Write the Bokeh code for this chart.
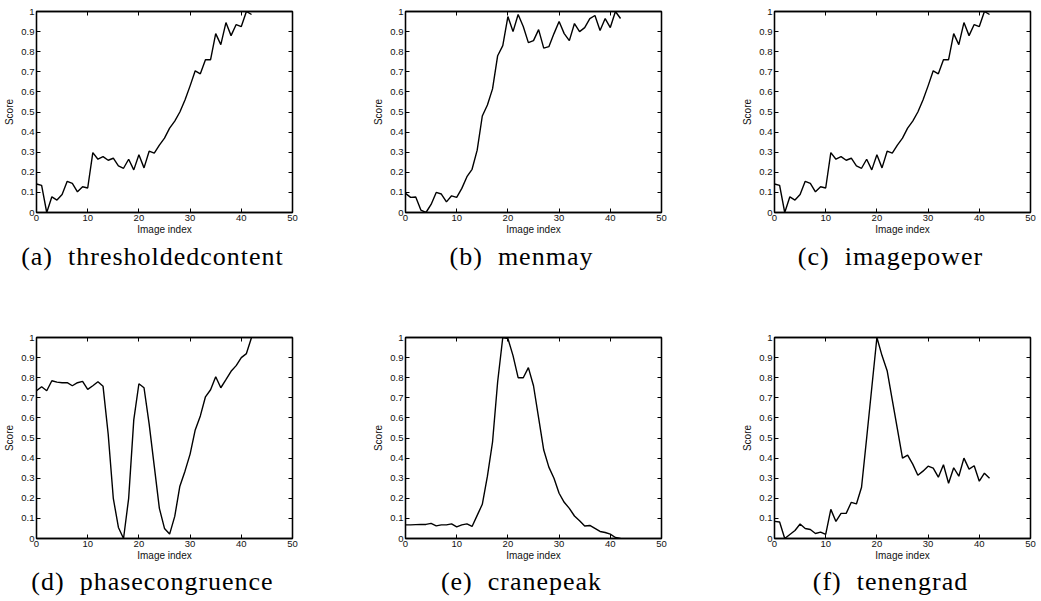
from bokeh.plotting import figure
from bokeh.models import Range1d, FixedTicker, LinearAxis, CustomJSTickFormatter, Div
from bokeh.layouts import column, row
from bokeh.embed import file_html
from bokeh.resources import INLINE

# Focus score of each image in the sequence, normalised to [0, 1]
image_index = list(range(43))

thresholdedcontent = [0.142, 0.135, 0.0, 0.078, 0.062, 0.09, 0.155, 0.145, 0.103, 0.128,
                      0.122, 0.298, 0.265, 0.278, 0.26, 0.27, 0.232, 0.22, 0.265, 0.212,
                      0.287, 0.222, 0.305, 0.295, 0.335, 0.37, 0.42, 0.455, 0.50, 0.56,
                      0.63, 0.705, 0.69, 0.76, 0.76, 0.89, 0.835, 0.945, 0.88, 0.935,
                      0.925, 1.0, 0.985]

menmay = [0.095, 0.075, 0.077, 0.012, 0.0, 0.04, 0.10, 0.092, 0.053, 0.083,
          0.075, 0.12, 0.178, 0.215, 0.31, 0.48, 0.535, 0.615, 0.78, 0.83,
          0.975, 0.90, 0.985, 0.925, 0.845, 0.855, 0.91, 0.818, 0.825, 0.89,
          0.95, 0.89, 0.855, 0.94, 0.90, 0.92, 0.965, 0.98, 0.905, 0.965,
          0.92, 1.0, 0.965]

imagepower = [0.142, 0.135, 0.0, 0.078, 0.062, 0.09, 0.155, 0.145, 0.103, 0.128,
              0.122, 0.298, 0.265, 0.278, 0.26, 0.27, 0.232, 0.22, 0.265, 0.212,
              0.287, 0.222, 0.305, 0.295, 0.335, 0.37, 0.42, 0.455, 0.50, 0.56,
              0.63, 0.705, 0.69, 0.76, 0.76, 0.89, 0.835, 0.945, 0.88, 0.935,
              0.925, 1.0, 0.985]

phasecongruence = [0.735, 0.755, 0.735, 0.785, 0.778, 0.775, 0.775, 0.76, 0.775, 0.782,
                   0.742, 0.76, 0.78, 0.757, 0.52, 0.20, 0.055, 0.0, 0.20, 0.59,
                   0.77, 0.75, 0.57, 0.36, 0.15, 0.05, 0.022, 0.11, 0.26, 0.335,
                   0.42, 0.54, 0.61, 0.705, 0.74, 0.805, 0.75, 0.79, 0.832, 0.86,
                   0.90, 0.92, 1.0]

cranepeak = [0.068, 0.068, 0.069, 0.07, 0.07, 0.075, 0.063, 0.068, 0.068, 0.073,
             0.058, 0.068, 0.073, 0.06, 0.115, 0.17, 0.31, 0.48, 0.78, 1.0,
             0.995, 0.91, 0.80, 0.80, 0.85, 0.76, 0.60, 0.44, 0.355, 0.30,
             0.225, 0.18, 0.15, 0.112, 0.088, 0.062, 0.065, 0.05, 0.035, 0.03,
             0.022, 0.005, 0.0]

tenengrad = [0.085, 0.082, 0.0, 0.02, 0.04, 0.072, 0.05, 0.045, 0.025, 0.032,
             0.02, 0.145, 0.085, 0.125, 0.125, 0.18, 0.172, 0.255, 0.50, 0.75,
             1.0, 0.91, 0.835, 0.69, 0.545, 0.40, 0.415, 0.37, 0.315, 0.335,
             0.36, 0.35, 0.305, 0.367, 0.275, 0.352, 0.31, 0.40, 0.345, 0.362,
             0.285, 0.325, 0.30]

x_ticks = [0, 10, 20, 30, 40, 50]
x_tick_labels = ["0", "10", "20", "30", "40", "50"]
y_ticks = [0.0, 0.1, 0.2, 0.3, 0.4, 0.5, 0.6, 0.7, 0.8, 0.9, 1.0]
y_tick_labels = ["0", "0.1", "0.2", "0.3", "0.4", "0.5", "0.6", "0.7", "0.8", "0.9", "1"]

captions = ["(a)", "(b)", "(c)", "(d)", "(e)", "(f)"]
method_names = ["thresholdedcontent", "menmay", "imagepower",
                "phasecongruence", "cranepeak", "tenengrad"]
series = [thresholdedcontent, menmay, imagepower, phasecongruence, cranepeak, tenengrad]

SANS = "Liberation Sans"
SERIF = "Liberation Serif"
FRAME_W, FRAME_H = 256, 201
LEFT, TOP, BOTTOM = 36, 11, 26
FIG_H = TOP + FRAME_H + BOTTOM


def style_axis(ax, ticks, labels=None):
    ax.ticker = FixedTicker(ticks=ticks)
    ax.major_tick_in = 4
    ax.major_tick_out = 0
    ax.minor_tick_line_color = None
    ax.axis_line_color = "black"
    ax.axis_line_width = 1.3
    ax.major_tick_line_color = "black"
    ax.major_tick_line_width = 1
    if labels is None:
        ax.formatter = CustomJSTickFormatter(code="return ''")
        ax.major_label_text_font_size = "0px"
        ax.major_label_standoff = 0
    else:
        ax.major_label_overrides = dict(zip(ticks, labels))
        ax.major_label_text_font = SANS
        ax.major_label_text_font_size = "9.5px"
        ax.major_label_text_color = "#111111"
        ax.major_label_standoff = 2


def make_panel(values, width):
    p = figure(width=width, height=FIG_H,
               x_range=Range1d(0, 50), y_range=Range1d(0, 1),
               output_backend="svg", toolbar_location=None,
               min_border_left=LEFT, min_border_right=width - LEFT - FRAME_W,
               min_border_top=TOP, min_border_bottom=BOTTOM,
               background_fill_color="white", border_fill_color="white",
               outline_line_color="black", outline_line_width=1.3,
               x_axis_label="Image index", y_axis_label="Score")
    p.grid.visible = False

    style_axis(p.xaxis[0], x_ticks, x_tick_labels)
    style_axis(p.yaxis[0], y_ticks, y_tick_labels)
    for ax in (p.xaxis[0], p.yaxis[0]):
        ax.axis_label_text_font = SANS
        ax.axis_label_text_font_size = "10px"
        ax.axis_label_text_font_style = "normal"
        ax.axis_label_text_color = "#111111"
    p.xaxis[0].axis_label_standoff = 0
    p.yaxis[0].axis_label_standoff = 3

    # MATLAB-style box: inward ticks on the top and right edges too
    top_axis = LinearAxis()
    style_axis(top_axis, x_ticks)
    p.add_layout(top_axis, "above")
    right_axis = LinearAxis()
    style_axis(right_axis, y_ticks)
    p.add_layout(right_axis, "right")

    p.line(image_index, values, line_color="black", line_width=1.4)
    return p


def make_caption(tag, name, width, height, pad):
    css = {
        "font-family": "'%s', serif" % SERIF,
        "font-size": "26px",
        "letter-spacing": "1px",
        "line-height": "30px",
        "text-align": "center",
        "white-space": "nowrap",
        "color": "#000000",
        "padding-top": "%dpx" % pad,
        "box-sizing": "border-box",
    }
    html = ('<span style="font-family:\'%s\',serif;font-size:26px;'
            'letter-spacing:1px">%s&nbsp;&nbsp;%s</span>') % (SERIF, tag, name)
    return Div(text=html, width=width, height=height, margin=0,
               styles=css)


col_widths = [369, 369, 303]
row_caption = [(326 - FIG_H, 4), (601 - 326 - FIG_H, 3)]

rows = []
for r in range(2):
    cells = []
    for c in range(3):
        k = r * 3 + c
        fig = make_panel(series[k], col_widths[c])
        cap_h, pad = row_caption[r]
        cells.append(column(fig, make_caption(captions[k], method_names[k], 305, cap_h, pad),
                            spacing=0, margin=0))
    rows.append(row(*cells, spacing=0, margin=0))

layout = column(*rows, spacing=0, margin=0)

open("out.html", "w").write(file_html(layout, INLINE))
